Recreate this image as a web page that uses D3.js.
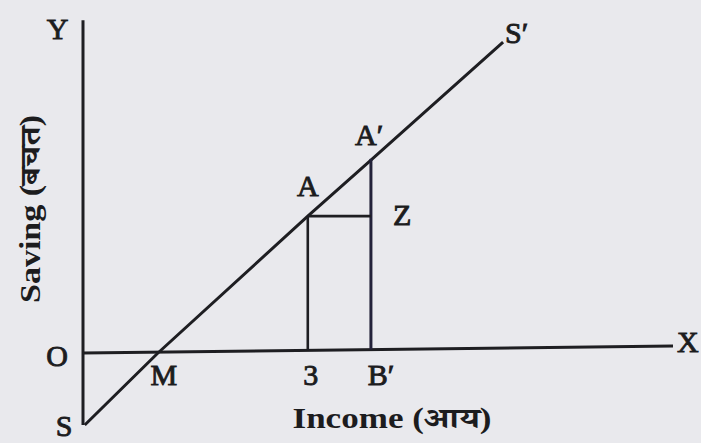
<!DOCTYPE html>
<html><head><meta charset="utf-8">
<script src="https://cdn.jsdelivr.net/npm/d3@7"></script>
<style>
html,body{margin:0;padding:0;background:#e9e9ed;}
svg{display:block;}
text{font-family:"Liberation Serif","Times New Roman","Noto Serif Devanagari","Noto Sans Devanagari",serif;fill:#1c1c1e;}
</style></head>
<body>
<script>
// ---- data (income units, saving units) ----
const savingCurve = [ // S ... M ... A ... A' ... S'
  {income: 0.3,  saving: -12.2},
  {income: 12.7, saving: 0},
  {income: 38.1, saving: 23.2},
  {income: 48.8, saving: 32.7},
  {income: 71.2, saving: 52.7}
];
const pointA  = {income: 38.1, saving: 23.2};
const pointA2 = {income: 48.8, saving: 32.9};
const yAxisExtent = [-12.2, 56.4];
const xAxisLine = [{income: 0, saving: 0}, {income: 100, saving: 1.2}];
const pointLabels = [
  {text: "Y",  income: -4.3, saving: 53.3},
  {text: "O",  income: -4.4, saving: -2.2},
  {text: "M",  income: 13.7, saving: -5.4},
  {text: "S",  income: -3.2, saving: -14.0},
  {text: "3",  income: 38.6, saving: -5.4},
  {text: "B\u2032", income: 50.5, saving: -5.4},
  {text: "A",  income: 38.1, saving: 26.6},
  {text: "A\u2032", income: 48.5, saving: 35.3},
  {text: "Z",  income: 54.1, saving: 21.7},
  {text: "S\u2032", income: 73.5, saving: 52.5},
  {text: "X",  income: 102.5, saving: 0.2}
];
const xTitle = "Income (आय)";
const yTitle = "Saving (बचत)";

// ---- scales ----
const W = 701, H = 443;
const x = d3.scaleLinear().domain([0, 100]).range([83, 673]);
const y = d3.scaleLinear().domain([0, 50]).range([353, 58]);

const svg = d3.select("body").append("svg").attr("width", W).attr("height", H);
const ink = "#1e1e22";

const line = d3.line().x(d => x(d.income)).y(d => y(d.saving));

// Y axis
svg.append("line")
  .attr("x1", x(0)).attr("x2", x(0))
  .attr("y1", y(yAxisExtent[1])).attr("y2", y(yAxisExtent[0]))
  .attr("stroke", ink).attr("stroke-width", 3);
// X axis
svg.append("path").attr("d", line(xAxisLine))
  .attr("fill", "none").attr("stroke", ink).attr("stroke-width", 3);

// saving function
svg.append("path").attr("d", line(savingCurve))
  .attr("fill", "none").attr("stroke", ink).attr("stroke-width", 3)
  .attr("stroke-linejoin", "round");

// verticals + horizontal
const axisAt = inc => d3.scaleLinear().domain([xAxisLine[0].income, xAxisLine[1].income])
  .range([xAxisLine[0].saving, xAxisLine[1].saving])(inc);
svg.append("line")
  .attr("x1", x(pointA.income)).attr("x2", x(pointA.income))
  .attr("y1", y(pointA.saving)).attr("y2", y(axisAt(pointA.income)))
  .attr("stroke", ink).attr("stroke-width", 2.6);
svg.append("line")
  .attr("x1", x(pointA2.income)).attr("x2", x(pointA2.income))
  .attr("y1", y(pointA2.saving)).attr("y2", y(axisAt(pointA2.income)))
  .attr("stroke", "#23223a").attr("stroke-width", 3);
svg.append("line")
  .attr("x1", x(pointA.income)).attr("x2", x(pointA2.income))
  .attr("y1", y(pointA.saving)).attr("y2", y(pointA.saving))
  .attr("stroke", ink).attr("stroke-width", 2.6);

// point labels (y = baseline)
svg.selectAll("text.pl").data(pointLabels).enter().append("text")
  .attr("class", "pl")
  .attr("x", d => x(d.income)).attr("y", d => y(d.saving))
  .attr("text-anchor", "middle")
  .attr("font-size", 30)
  .attr("stroke", "#1c1c1e").attr("stroke-width", 0.9)
  .text(d => d.text);

// axis titles
svg.append("text")
  .attr("x", 392).attr("y", 428)
  .attr("text-anchor", "middle")
  .attr("font-size", 29).attr("font-weight", "bold")
  .attr("textLength", 199).attr("lengthAdjust", "spacingAndGlyphs")
  .text(xTitle);
svg.append("text")
  .attr("transform", "translate(40,209) rotate(-90)")
  .attr("text-anchor", "middle")
  .attr("font-size", 29).attr("font-weight", "bold")
  .attr("textLength", 188).attr("lengthAdjust", "spacingAndGlyphs")
  .text(yTitle);
</script>
</body></html>
